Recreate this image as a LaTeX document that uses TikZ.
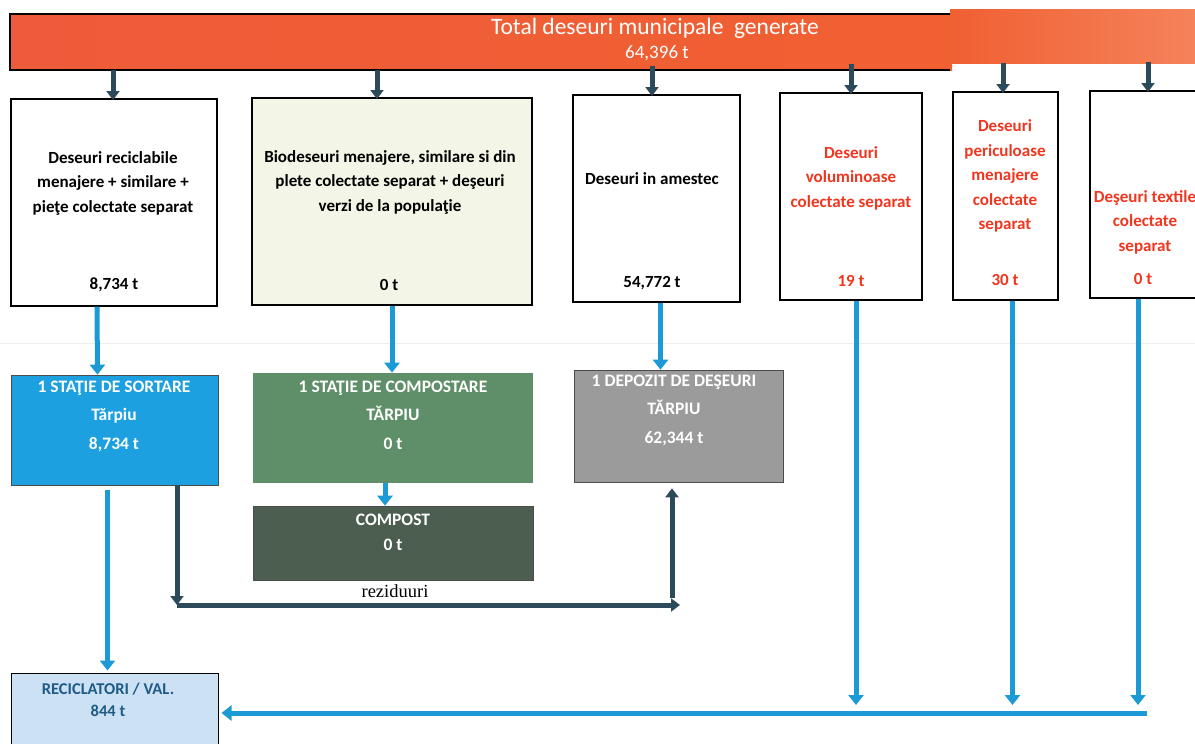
\documentclass[tikz,border=0pt]{standalone}
\usepackage{fontspec}
\setmainfont{Carlito}
\newfontfamily\serifx{Liberation Serif}
\usetikzlibrary{arrows.meta}
\definecolor{barred}{HTML}{EE5B3A}
\definecolor{barlight}{HTML}{F5825A}
\definecolor{darkarr}{HTML}{2D4A5A}
\definecolor{bluearr}{HTML}{1B9AD6}
\definecolor{sortblue}{HTML}{1CA0DF}
\definecolor{compgreen}{HTML}{5F8F68}
\definecolor{compdark}{HTML}{4C5E50}
\definecolor{depgray}{HTML}{9B9B9B}
\definecolor{recfill}{HTML}{CDE1F4}
\definecolor{rectext}{HTML}{1E5A86}
\definecolor{biofill}{HTML}{F3F6E7}
\definecolor{redtxt}{HTML}{F0361E}
\tikzset{
  box/.style={draw=black, line width=1.2pt, inner sep=0pt},
  fbox/.style={draw=black!70, line width=0.6pt, inner sep=0pt},
  txt/.style={font=\fontsize{17}{24.5}\selectfont\bfseries, align=center, inner sep=0pt},
  wtxt/.style={txt, text=white, font=\fontsize{17.5}{28.5}\selectfont\bfseries},
  rtxt/.style={txt, text=redtxt},
  darr/.style={draw=darkarr, line width=5pt, -{Triangle[width=13pt,length=9pt]}},
  barr/.style={draw=bluearr, line width=5pt, -{Triangle[width=15pt,length=10pt]}},
}
\begin{document}
\begin{tikzpicture}[x=1pt,y=-1pt]
\useasboundingbox (0,0) rectangle (1195,744);
% top bar
\shade[left color=barred, right color=barred!85!orange] (10,14) rectangle (952,70);
\shade[left color=barred!88!orange, right color=barlight] (950,9) rectangle (1195,63);
\draw[line width=1.2pt] (950,14) -- (10,14) -- (10,70) -- (950,70);
\node[inner sep=0pt] (top) at (602.5,42) {};
\node[text=white, font=\fontsize{23.5}{28}\selectfont, inner sep=0pt] (toptitle) at (655,28) {Total deseuri municipale \ generate};
\node[text=white, font=\fontsize{19}{22}\selectfont, inner sep=0pt] (topnum) at (657,53) {64,396 t};
% faint scan line
\draw[black!7, line width=1pt] (0,343) -- (1195,343);
% row 1 boxes
\node[box, fill=white, minimum width=206pt, minimum height=207pt] (a) at (114,202.5) {};
\node[txt] (at) at (113,183) {Deseuri reciclabile\\menajere + similare +\\pieţe colectate separat};
\node[txt] (an) at (114,285) {8,734 t};
\node[box, fill=biofill, minimum width=280pt, minimum height=207pt] (b) at (392,201.5) {};
\node[txt] (bt) at (390,182) {Biodeseuri menajere, similare si din\\plete colectate separat + deşeuri\\verzi de la populaţie};
\node[txt] (bn) at (389,285) {0 t};
\node[box, fill=white, minimum width=167pt, minimum height=207pt] (c) at (656.5,198.5) {};
\node[txt] (ct) at (652,179) {Deseuri in amestec};
\node[txt] (cn) at (652,283) {54,772 t};
\node[box, fill=white, minimum width=142pt, minimum height=207pt] (d) at (851,196.5) {};
\node[rtxt] (dt) at (851,178) {Deseuri\\voluminoase\\colectate separat};
\node[rtxt] (dn) at (851,281) {19 t};
\node[box, fill=white, minimum width=105pt, minimum height=208pt] (e) at (1005.5,196) {};
\node[rtxt] (et) at (1005,176) {Deseuri\\periculoase\\menajere\\colectate\\separat};
\node[rtxt] (en) at (1005,280) {30 t};
\node[box, fill=white, minimum width=112pt, minimum height=207pt] (f) at (1146,194.5) {};
\node[rtxt] (ft) at (1145,222) {Deşeuri textile\\colectate\\separat};
\node[rtxt] (fn) at (1143,279) {0 t};
% arrows from top bar
\draw[darr] (113,70) -- (113,100);
\draw[darr] (377,70) -- (377,99);
\draw[darr] (652,66) -- (652,96);
\draw[darr] (851,64) -- (851,94);
\draw[darr] (1003,63) -- (1003,93);
\draw[darr] (1148,62) -- (1148,92);
% row 2
\node[fbox, fill=sortblue, minimum width=207pt, minimum height=110pt] (sort) at (114.5,430) {};
\node[wtxt] (sortt) at (114,416) {1 STAŢIE DE SORTARE\\Tărpiu\\8,734 t};
\node[fbox, fill=compgreen, draw=none, minimum width=280pt, minimum height=110pt] (st) at (393,428) {};
\node[wtxt] (stt) at (393,415) {1 STAŢIE DE COMPOSTARE\\TĂRPIU\\0 t};
\node[fbox, fill=compdark, minimum width=280pt, minimum height=74pt] (co) at (393,543) {};
\node[wtxt, font=\fontsize{17.5}{25}\selectfont\bfseries] (cot) at (393,532) {COMPOST\\0 t};
\node[fbox, fill=depgray, minimum width=209pt, minimum height=112pt] (dep) at (678.5,426) {};
\node[wtxt] (dept) at (674,410) {1 DEPOZIT DE DEŞEURI\\TĂRPIU\\62,344 t};
\node[fbox, draw=black, line width=1pt, fill=recfill, minimum width=207pt, minimum height=90pt] (rec) at (114.5,718) {};
\node[txt, text=rectext, font=\fontsize{16.5}{22}\selectfont\bfseries] (rect) at (108,700) {RECICLATORI / VAL.\\844 t};
\node[font=\serifx\fontsize{18.5}{20}\selectfont, inner sep=0pt] (rez) at (395,591) {reziduuri};
% blue arrows row1 -> row2
\draw[barr] ([xshift=-17pt]a.south) -- ([xshift=-17pt]sort.north);
\draw[barr] (b.south) -- (b.south |- st.north);
\draw[barr] ([xshift=4pt]c.south) -- ([xshift=4pt]c.south |- dep.north);
\draw[barr] ([xshift=-8pt]st.south) -- ([xshift=-8pt]st.south |- co.north);
% separate collections to recyclers
\coordinate (bl) at (1147,713);
\coordinate (yd) at (0,705);
\draw[barr] ([xshift=5pt]d.south) -- ([xshift=5pt]d.south |- yd);
\draw[barr] ([xshift=7pt]e.south) -- ([xshift=7pt]e.south |- yd);
\draw[barr] ([xshift=-8pt]f.south) -- ([xshift=-8pt]f.south |- yd);
\draw[barr] (bl) -- ([xshift=3pt]rec.east |- bl);
% sorting to recyclers
\draw[barr, shorten <=5pt, shorten >=2pt] ([xshift=-7pt]sort.south) -- ([xshift=-7pt]rec.north);
% residues
\coordinate (r1) at (177,605);
\coordinate (r2) at (680,605);
\coordinate (r3) at (672,598);
\draw[darr] (sort.south -| r1) -- (r1);
\draw[darr] (r1) -- (r2);
\draw[darr, shorten >=6pt] (r3) -- (r3 |- dep.south);
\end{tikzpicture}
\end{document}
